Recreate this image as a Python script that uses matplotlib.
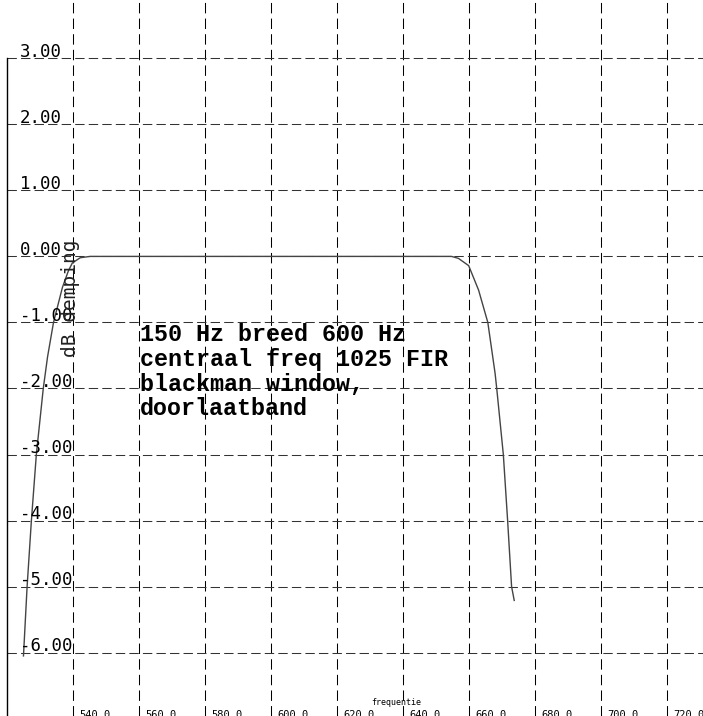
import matplotlib
matplotlib.use("Agg")
import matplotlib.pyplot as plt
import matplotlib.transforms as mtransforms

# Data
freq = [524.9, 526.0, 527.3, 528.8, 530.9, 532.2, 534.0, 536.7, 538.5, 539.7,
        542.1, 545.1, 600.0, 654.6, 656.7, 659.8, 662.8, 665.6, 667.8, 668.3,
        670.3, 671.6, 672.8, 673.6]
db = [-6.05, -5.0, -4.0, -3.0, -2.0, -1.52, -1.0, -0.47, -0.22, -0.1,
      -0.02, 0.0, 0.0, 0.0, -0.03, -0.14, -0.51, -1.0, -1.77, -2.0,
      -3.0, -4.0, -5.0, -5.21]
xticks = [540, 560, 580, 600, 620, 640, 660, 680, 700, 720]
xtick_labels = ["540.0", "560.0", "580.0", "600.0", "620.0", "640.0",
                "660.0", "680.0", "700.0", "720.0"]
yticks = [3, 2, 1, 0, -1, -2, -3, -4, -5, -6]
ytick_labels = ["3.00", "2.00", "1.00", "0.00", "-1.00", "-2.00", "-3.00",
                "-4.00", "-5.00", "-6.00"]
annotation = "150 Hz breed 600 Hz\ncentraal freq 1025 FIR\nblackman window,\ndoorlaatband"
xlabel = "frequentie"
ylabel = "dB demping"

W, H = 703, 716
fig = plt.figure(figsize=(W / 100, H / 100), dpi=100)
left_px = 7.3
ax = fig.add_axes([left_px / W, 0, (W - left_px) / W, 1])
ax.set_xlim(520.0, 730.8)
ax.set_ylim(-6.96, 3.883)
for s in ["top", "right", "bottom"]:
    ax.spines[s].set_visible(False)
ax.spines["left"].set_bounds(-6.96, 3.0)
ax.spines["left"].set_linewidth(1.0)
ax.set_xticks([])
ax.set_yticks([])

lw = 0.75
for x in xticks:
    ax.axvline(x, color="black", lw=lw, ls=(0, (10, 5)), zorder=1)
for y in yticks:
    ax.axhline(y, color="#333333", lw=lw, ls=(0, (9, 4)), zorder=1)

ax.plot(freq, db, color="#444444", lw=1.0, zorder=3)

mono = "DejaVu Sans Mono"
# y tick labels inside the plot
for y, lab in zip(yticks, ytick_labels):
    tr = mtransforms.offset_copy(ax.transData, fig=fig, x=0, y=1.5, units="dots")
    ax.text(523.85, y, lab, transform=tr, family=mono, fontsize=12.5,
            ha="left", va="baseline", color="black", zorder=4)

# x tick labels, cut at the bottom edge
for x, lab in zip(xticks, xtick_labels):
    tr = mtransforms.blended_transform_factory(ax.transData, fig.transFigure)
    tr2 = mtransforms.offset_copy(tr, fig=fig, x=6, y=0, units="dots")
    ax.text(x, (H - 710) / H, lab, transform=tr2, family=mono, fontsize=7.5,
            ha="left", va="top", color="black")

fig.text(396 / W, 1 - 705 / H, xlabel, family=mono, fontsize=6,
         ha="center", va="baseline", color="black")
fig.text(71 / W, 1 - 298 / H, ylabel, family=mono, fontsize=14,
         rotation=90, ha="center", va="center", color="#222222", zorder=5)

fig.text(140 / W, 1 - 323 / H, annotation, family="Liberation Mono",
         fontweight="bold", fontsize=16.8, linespacing=1.1,
         ha="left", va="top", color="black")

fig.savefig("out.png", dpi=100)
